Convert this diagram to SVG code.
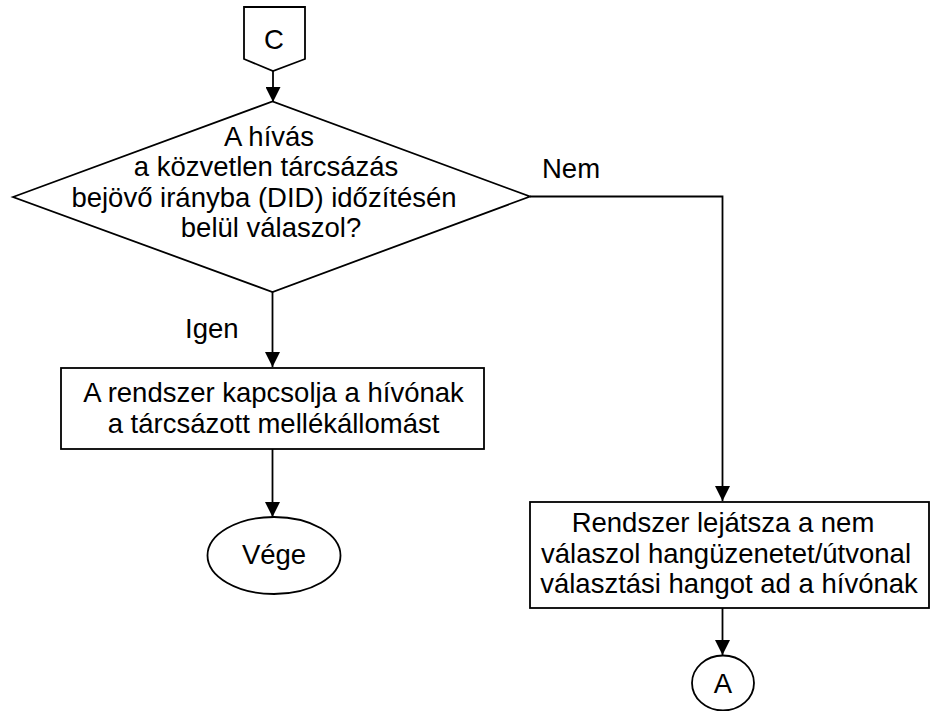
<svg xmlns="http://www.w3.org/2000/svg" width="934" height="711" viewBox="0 0 934 711">
<style>
.s{fill:#fff;stroke:#000;stroke-width:1.8}
.c{fill:none;stroke:#000;stroke-width:1.8}
text{font-family:"Liberation Sans",Arial,sans-serif;font-size:27.5px;fill:#000}
.m{text-anchor:middle}
</style>
<defs>
<marker id="ah" markerUnits="userSpaceOnUse" markerWidth="15" markerHeight="15" refX="15" refY="7.5" orient="auto">
<path d="M0,0 L15,7.5 L0,15 z" fill="#000"/>
</marker>
</defs>
<rect width="934" height="711" fill="#fff"/>
<g id="connectors">
<path class="c" d="M273,71 V102" marker-end="url(#ah)"/>
<path class="c" d="M272.5,292 V367" marker-end="url(#ah)"/>
<path class="c" d="M530,196.5 H722.5 V501" marker-end="url(#ah)"/>
<path class="c" d="M272.5,449 V517" marker-end="url(#ah)"/>
<path class="c" d="M722.5,608 V655" marker-end="url(#ah)"/>
<text x="185" y="338">Igen</text>
<text x="542" y="178">Nem</text>
</g>
<g id="connectorC">
<polygon class="s" points="244,7 305,7 305,59 273,71 244,59"/>
<text class="m" x="274" y="49">C</text>
</g>
<g id="decision">
<polygon class="s" points="13,197 272.5,101.5 530,196.5 272.5,292"/>
<text class="m" x="269" y="146">A hívás</text>
<text class="m" x="266" y="176">a közvetlen tárcsázás</text>
<text class="m" x="264" y="206.5">bejövő irányba (DID) időzítésén</text>
<text class="m" x="271" y="236.5">belül válaszol?</text>
</g>
<g id="connect">
<rect class="s" x="61" y="368" width="423" height="81"/>
<text class="m" x="273.5" y="402">A rendszer kapcsolja a hívónak</text>
<text class="m" x="273.5" y="433">a tárcsázott mellékállomást</text>
</g>
<g id="end">
<ellipse class="s" cx="274" cy="555.5" rx="66.5" ry="38.5"/>
<text class="m" x="274" y="564">Vége</text>
</g>
<g id="noanswer">
<rect class="s" x="530" y="502" width="399" height="106"/>
<text class="m" x="723" y="532">Rendszer lejátsza a nem</text>
<text class="m" x="726" y="562.5">válaszol hangüzenetet/útvonal</text>
<text class="m" x="729" y="593">választási hangot ad a hívónak</text>
</g>
<g id="connectorA">
<ellipse class="s" cx="723" cy="683" rx="31" ry="27.5"/>
<text class="m" x="723" y="693">A</text>
</g>
</svg>
